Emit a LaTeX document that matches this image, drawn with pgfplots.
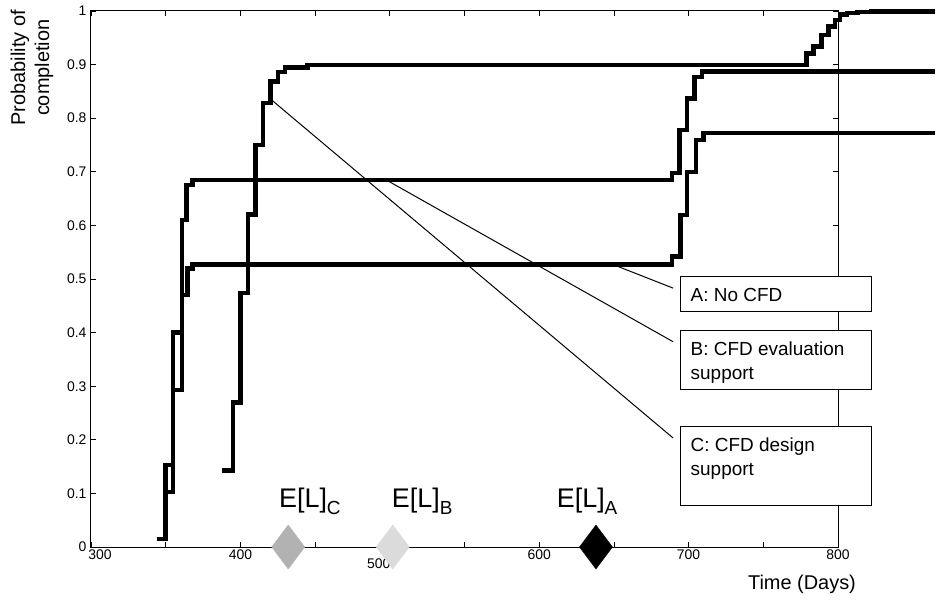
\documentclass[border=0pt]{standalone}
\usepackage{pgfplots}
\pgfplotsset{compat=1.18}
\usepackage{fontspec}
\setmainfont{Liberation Sans}
\newcommand{\tl}{\fontsize{14}{14}\selectfont}
\begin{document}
\begin{tikzpicture}
\begin{axis}[
  name=ax,
  scale only axis,
  width=747bp, height=536bp,
  xmin=300, xmax=800, ymin=0, ymax=1,
  clip=false,
  axis line style={line width=1bp},
  tick style={line width=0.8bp, black},
  tick align=inside,
  major tick length=5bp,
  xtick={300,350,400,450,500,550,600,650,700,750,800},
  xticklabels={{\tl\hspace*{18bp}300},,{\tl 400},,{\tl\raisebox{-19bp}{\hspace*{-22bp}500}},,{\tl 600},,{\tl 700},,{\tl 800}},
  ytick={0,0.1,0.2,0.3,0.4,0.5,0.6,0.7,0.8,0.9,1},
  yticklabels={{\tl 0},{\tl 0.1},{\tl 0.2},{\tl 0.3},{\tl 0.4},{\tl 0.5},{\tl 0.6},{\tl 0.7},{\tl 0.8},{\tl 0.9},{\tl 1}},
  yticklabel style={xshift=-1bp},
  xticklabel style={yshift=1bp},
]
% Curve A: No CFD
\addplot[const plot, black, line width=4.5bp, no markers] coordinates {
 (344,0.015) (350,0.103) (355,0.293) (361,0.47) (364.5,0.52) (368,0.527)
 (689,0.542) (694.5,0.619) (699,0.70) (705,0.759) (710,0.772) (865,0.772)};
% Curve B: CFD evaluation support
\addplot[const plot, black, line width=4.5bp, no markers] coordinates {
 (344,0.015) (350,0.153) (355,0.40) (361,0.61) (364,0.675) (368,0.685)
 (689,0.698) (694,0.778) (699,0.837) (704,0.877) (709,0.887) (865,0.887)};
% Curve C: CFD design support
\addplot[const plot, black, line width=4.5bp, no markers] coordinates {
 (388,0.143) (395,0.27) (400,0.474) (405,0.62) (410,0.75) (415,0.828)
 (420,0.868) (425,0.886) (430,0.895) (445,0.899)
 (779,0.921) (783.5,0.934) (789,0.955) (793.5,0.971) (798,0.983)
 (801.3,0.993) (806,0.996) (813,0.998) (822,0.999) (865,0.999)};
% callout lines
\addplot[black, line width=1bp, no markers] coordinates {(649.4,0.527) (689.6,0.483)};
\addplot[black, line width=1bp, no markers] coordinates {(498.8,0.683) (689.6,0.383)};
\addplot[black, line width=1bp, no markers] coordinates {(420.9,0.834) (689.6,0.2034)};
% expected lead times
\addplot[only marks, mark=diamond*, mark size=22bp, mark options={fill=gray!60, draw=gray!60}] coordinates {(432,0)};
\addplot[only marks, mark=diamond*, mark size=22bp, mark options={fill=gray!28, draw=gray!28}] coordinates {(502,0)};
\addplot[only marks, mark=diamond*, mark size=22bp, mark options={fill=black, draw=black}] coordinates {(638,0)};
% boxes
\draw[line width=1bp, fill=white] (axis cs:694.9,0.504) rectangle (axis cs:822.7,0.440);
\draw[line width=1bp, fill=white] (axis cs:694.9,0.4035) rectangle (axis cs:822.7,0.293);
\draw[line width=1bp, fill=white] (axis cs:694.9,0.2245) rectangle (axis cs:822.7,0.078);
\node[anchor=north west, inner sep=0pt, align=left, font=\fontsize{19}{24}\selectfont] at (axis cs:701.3,0.4832) {A: No CFD};
\node[anchor=north west, inner sep=0pt, align=left, font=\fontsize{19}{24}\selectfont] at (axis cs:701.3,0.3825) {B: CFD evaluation\\support};
\node[anchor=north west, inner sep=0pt, align=left, font=\fontsize{19}{24}\selectfont] at (axis cs:701.3,0.204) {C: CFD design\\support};
% E[L] labels
\node[anchor=base west, inner sep=0pt, font=\fontsize{27}{27}\selectfont] at (axis cs:425.8,0.073) {E[L]\raisebox{-7bp}{\fontsize{19}{19}\selectfont C}};
\node[anchor=base west, inner sep=0pt, font=\fontsize{27}{27}\selectfont] at (axis cs:501.3,0.073) {E[L]\raisebox{-7bp}{\fontsize{19}{19}\selectfont B}};
\node[anchor=base west, inner sep=0pt, font=\fontsize{27}{27}\selectfont] at (axis cs:611.7,0.073) {E[L]\raisebox{-7bp}{\fontsize{19}{19}\selectfont A}};
% axis labels
\node[anchor=base, inner sep=0pt, font=\fontsize{20}{20}\selectfont] at (axis cs:775.9,-0.080) {Time (Days)};
\node[rotate=90, anchor=center, inner sep=0pt, align=center, font=\fontsize{20}{24}\selectfont] at (axis cs:260.5,0.894) {Probability of\\completion};
\end{axis}
\pgfresetboundingbox
\path[use as bounding box] ([shift={(-91bp,-54bp)}]ax.south west) rectangle ([shift={(100bp,11bp)}]ax.north east);
\end{tikzpicture}
\end{document}
